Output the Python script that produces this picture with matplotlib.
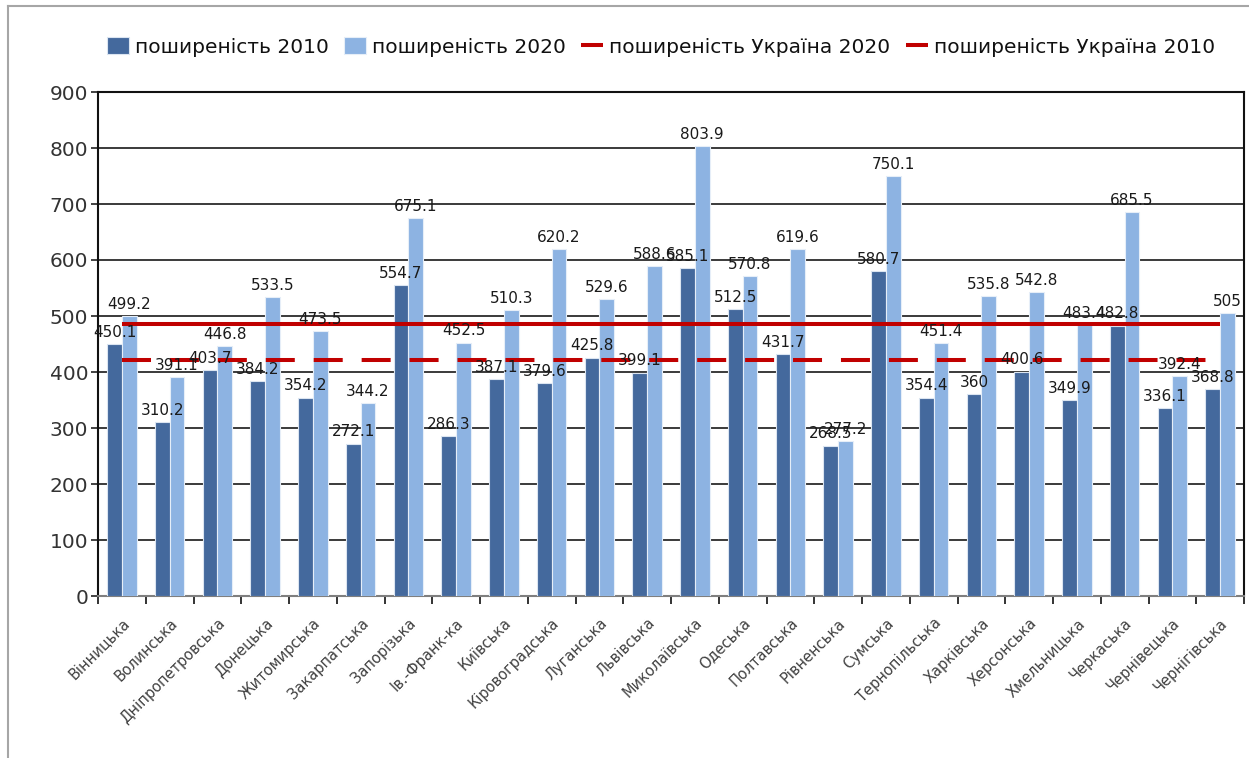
import matplotlib
matplotlib.use("Agg")
import matplotlib.pyplot as plt
import numpy as np
from matplotlib.lines import Line2D

regions = ["Вінницька", "Волинська", "Дніпропетровська", "Донецька", "Житомирська",
           "Закарпатська", "Запорізька", "Ів.-Франк-ка", "Київська", "Кіровоградська",
           "Луганська", "Львівська", "Миколаївська", "Одеська", "Полтавська",
           "Рівненська", "Сумська", "Тернопільська", "Харківська", "Херсонська",
           "Хмельницька", "Черкаська", "Чернівецька", "Чернігівська"]

prev_2010 = [450.1, 310.2, 403.7, 384.2, 354.2, 272.1, 554.7, 286.3, 387.1, 379.6,
             425.8, 399.1, 585.1, 512.5, 431.7, 268.5, 580.7, 354.4, 360, 400.6,
             349.9, 482.8, 336.1, 368.8]
prev_2020 = [499.2, 391.1, 446.8, 533.5, 473.5, 344.2, 675.1, 452.5, 510.3, 620.2,
             529.6, 588.6, 803.9, 570.8, 619.6, 277.2, 750.1, 451.4, 535.8, 542.8,
             483.4, 685.5, 392.4, 505]
ukraine_2020 = 485.0
ukraine_2010 = 421.5

series_names = ["поширеність 2010", "поширеність 2020",
                "поширеність Україна 2020", "поширеність Україна 2010"]
y_ticks = [0, 100, 200, 300, 400, 500, 600, 700, 800, 900]

C_DARK = "#44699d"
C_LIGHT = "#8db3e2"
C_RED = "#c00000"

plt.rcParams["font.family"] = ["DejaVu Sans"]

W, H = 1249, 758
fig = plt.figure(figsize=(W / 100, H / 100), dpi=100)
fig.patch.set_facecolor("white")

ax = fig.add_axes([98 / W, 1 - 596 / H, (1244 - 98) / W, (596 - 92) / H])

n = len(regions)
x = np.arange(n)
bw = 0.31
b1 = ax.bar(x - bw / 2, prev_2010, bw, color=C_DARK, edgecolor="#dbe5f1",
            linewidth=0.8, zorder=3, label=series_names[0])
b2 = ax.bar(x + bw / 2, prev_2020, bw, color=C_LIGHT, edgecolor="#e6eef8",
            linewidth=0.8, zorder=3, label=series_names[1])

l1, = ax.plot(x, [ukraine_2020] * n, color=C_RED, lw=2.9, zorder=4,
              solid_capstyle="butt", label=series_names[2])
l2, = ax.plot(x, [ukraine_2010] * n, color=C_RED, lw=2.9, zorder=4,
              dashes=(7.2, 4.7), dash_capstyle="butt", label=series_names[3])

for bars, vals in ((b1, prev_2010), (b2, prev_2020)):
    for rect, v in zip(bars, vals):
        ax.annotate(f"{v:g}", (rect.get_x() + rect.get_width() / 2, v),
                    xytext=(0, 3), textcoords="offset points",
                    ha="center", va="bottom", fontsize=11, color="#1a1a1a",
                    zorder=6)

ax.set_xlim(-0.5, n - 0.5)
ax.set_ylim(0, 900)
ax.set_yticks(y_ticks)
ax.yaxis.grid(True, color="#3a3a3a", linewidth=1.4, zorder=0)
ax.set_axisbelow(True)
ax.tick_params(axis="y", direction="out", length=5, width=1.2, color="#222",
               labelsize=14.5, labelcolor="#333", pad=2)

ax.set_xticks(x)
ax.set_xticklabels(regions, rotation=45, ha="right", rotation_mode="anchor",
                   fontsize=10.5, color="#404040")
ax.tick_params(axis="x", which="major", length=0, pad=14)
ax.set_xticks(np.arange(n + 1) - 0.5, minor=True)
ax.tick_params(axis="x", which="minor", direction="out", length=6, width=1.4,
               color="#333")

for side in ("left", "right", "top"):
    ax.spines[side].set_color("#111")
    ax.spines[side].set_linewidth(1.5)
ax.spines["bottom"].set_color("#7f7f7f")
ax.spines["bottom"].set_linewidth(1.5)

fig.legend(handles=[b1, b2, l1, l2], labels=series_names, loc="center",
           bbox_to_anchor=(661 / W, 1 - 47 / H), ncol=4, frameon=False,
           fontsize=14.5, handlelength=1.1, handleheight=0.85,
           handletextpad=0.3, columnspacing=0.75, labelcolor="#111")

# outer chart frame
fig.add_artist(Line2D([8 / W, 8 / W], [0, 1 - 6 / H], transform=fig.transFigure,
                      color="#a6a6a6", lw=1.5))
fig.add_artist(Line2D([8 / W, 1], [1 - 6 / H, 1 - 6 / H], transform=fig.transFigure,
                      color="#a6a6a6", lw=1.5))

fig.savefig("out.png", dpi=100)
